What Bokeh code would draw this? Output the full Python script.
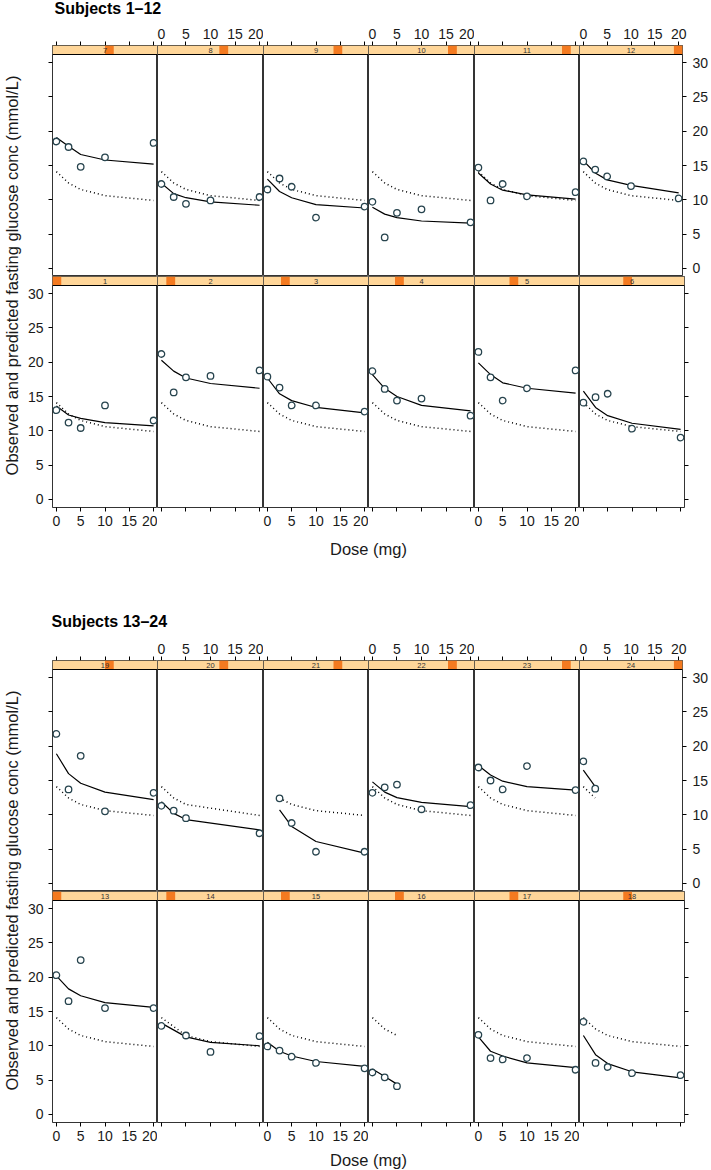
import math
from bokeh.plotting import figure
from bokeh.models import Range1d, LinearAxis, FixedTicker, BoxAnnotation, Span, Label
from bokeh.layouts import row, column
from bokeh.embed import file_html
from bokeh.resources import INLINE
from bokeh.core.properties import value

# ---------------- data ----------------
doses = [0, 2.5, 5, 10, 20]
pop_pred = [14.1, 12.45, 11.5, 10.6, 9.9]          # dotted: population prediction

obs_01 = [13.0, 11.2, 10.4, 13.7, 11.5]
ipred_01 = [13.6, 12.3, 11.8, 11.2, 10.7]
obs_02 = [21.2, 15.6, 17.8, 18.0, 18.8]
ipred_02 = [20.3, 18.7, 17.7, 16.9, 16.2]
obs_03 = [17.9, 16.3, 13.7, 13.7, 12.8]
ipred_03 = [17.7, 15.4, 14.4, 13.4, 12.6]
obs_04 = [18.7, 16.1, 14.4, 14.7, 12.2]
ipred_04 = [18.2, 16.2, 15.0, 13.7, 12.9]
obs_05 = [21.5, 17.8, 14.4, 16.2, 18.8]
ipred_05 = [19.9, 18.2, 17.0, 16.2, 15.5]
obs_06 = [14.1, 14.9, 15.4, 10.3, 9.0]
ipred_06 = [15.8, 13.4, 12.2, 11.1, 10.2]
obs_07 = [18.5, 17.7, 14.8, 16.2, 18.3]
ipred_07 = [19.1, 17.8, 16.6, 15.8, 15.2]
obs_08 = [12.3, 10.4, 9.4, 9.9, 10.4]
ipred_08 = [12.4, 10.9, 10.3, 9.7, 9.2]
obs_09 = [11.5, 13.1, 11.9, 7.4, 9.0]
ipred_09 = [13.0, 11.2, 10.3, 9.3, 8.8]
obs_10 = [9.7, 4.5, 8.1, 8.6, 6.7]
ipred_10 = [8.9, 7.9, 7.4, 6.9, 6.6]
obs_11 = [14.7, 9.9, 12.3, 10.5, 11.1]
ipred_11 = [13.9, 12.3, 11.4, 10.7, 10.1]
obs_12 = [15.6, 14.4, 13.4, 12.0, 10.2]
ipred_12 = [15.7, 13.9, 12.9, 12.1, 11.0]
obs_13 = [20.3, 16.5, 22.5, 15.5, 15.5]
ipred_13 = [20.2, 18.3, 17.3, 16.3, 15.6]
obs_14 = [12.9, None, 11.5, 9.1, 11.4]
ipred_14 = [13.3, None, 11.3, 10.5, 10.0]
obs_15 = [9.9, 9.3, 8.4, 7.5, 6.7]
ipred_15 = [10.5, 9.2, 8.5, 7.7, 7.0]
obs_16 = [6.1, 5.4, 4.1, None, None]
ipred_16 = [6.6, 5.5, 4.4, None, None]
obs_17 = [11.6, 8.2, 8.0, 8.2, 6.5]
ipred_17 = [11.3, 9.2, 8.5, 7.5, 6.8]
obs_18 = [13.5, 7.5, 6.9, 6.0, 5.7]
ipred_18 = [11.5, 8.7, 7.4, 6.2, 5.3]
obs_19 = [21.8, 13.7, 18.6, 10.5, 13.2]
ipred_19 = [18.9, 16.0, 14.6, 13.3, 12.2]
obs_20 = [11.3, 10.6, 9.5, None, 7.3]
ipred_20 = [11.9, 10.2, 9.3, None, 7.8]
obs_21 = [None, 12.4, 8.8, 4.6, 4.6]
ipred_21 = [None, 10.7, 8.3, 6.1, 4.4]
obs_22 = [13.2, 14.0, 14.4, 10.8, 11.4]
ipred_22 = [14.8, 13.3, 12.5, 11.8, 11.2]
obs_23 = [16.9, 15.0, 13.7, 17.1, 13.6]
ipred_23 = [17.2, 15.8, 14.9, 14.1, 13.6]
obs_24 = [17.8, 13.8, None, None, None]
ipred_24 = [16.5, 14.1, None, None, None]

obs_all = [obs_01, obs_02, obs_03, obs_04, obs_05, obs_06, obs_07, obs_08,
           obs_09, obs_10, obs_11, obs_12, obs_13, obs_14, obs_15, obs_16,
           obs_17, obs_18, obs_19, obs_20, obs_21, obs_22, obs_23, obs_24]
ipred_all = [ipred_01, ipred_02, ipred_03, ipred_04, ipred_05, ipred_06,
             ipred_07, ipred_08, ipred_09, ipred_10, ipred_11, ipred_12,
             ipred_13, ipred_14, ipred_15, ipred_16, ipred_17, ipred_18,
             ipred_19, ipred_20, ipred_21, ipred_22, ipred_23, ipred_24]

x_ticks = [0, 5, 10, 15, 20]
y_ticks = [0, 5, 10, 15, 20, 25, 30]
group_titles = ["Subjects 1\u201312", "Subjects 13\u201324"]
y_label = "Observed and predicted fasting glucose conc (mmol/L)"
x_label = "Dose (mg)"

# ---------------- styling / geometry ----------------
FONT = "Liberation Sans"
TXT = "#1a1a1a"
STRIP_BG = "#FFD699"
STRIP_DARK = "#F47A20"
PT_EDGE = "#27444E"
PT_FILL = "#FFFFFF"

PANEL_WS = [105, 106, 105, 106, 105, 105]
PANEL_H, STRIP_H = 222, 9
LEFT_B, RIGHT_B, TOP_B, BOT_B = 29, 27, 22, 26
YL_W = 23
TOTAL_W = YL_W + LEFT_B + sum(PANEL_WS) + RIGHT_B   # 711
X0, X1 = -0.8, 20.8
Y0, Y1 = -1.2, 31.2
Y_TOP = Y1 + STRIP_H * (Y1 - Y0) / PANEL_H


def mk_axis(ticks, show, standoff=2):
    return LinearAxis(
        ticker=FixedTicker(ticks=ticks), axis_line_color=None,
        major_tick_out=4, major_tick_in=0, minor_tick_out=0, minor_tick_in=0,
        major_tick_line_color="black", major_tick_line_width=1,
        major_label_text_font=FONT, major_label_text_font_size="14px",
        major_label_text_color=TXT if show else None,
        major_label_standoff=standoff)


def panel(subj, col, is_top):
    w = PANEL_WS[col] + (LEFT_B if col == 0 else 0) + (RIGHT_B if col == 5 else 0)
    h = PANEL_H + STRIP_H + (TOP_B if is_top else BOT_B)
    p = figure(width=w, height=h, x_range=Range1d(X0, X1), y_range=Range1d(Y0, Y_TOP),
               output_backend="svg", toolbar_location=None,
               x_axis_location=None, y_axis_location=None,
               min_border_left=LEFT_B if col == 0 else 0,
               min_border_right=RIGHT_B if col == 5 else 0,
               min_border_top=TOP_B if is_top else 0,
               min_border_bottom=0 if is_top else BOT_B,
               outline_line_color="black", outline_line_width=0.8,
               background_fill_color="white", border_fill_color="white")
    p.grid.visible = False

    # strip
    p.add_layout(BoxAnnotation(bottom=Y1, fill_color=STRIP_BG, fill_alpha=1, line_color=None))
    lvl = (subj - 1) % 12
    step = (X1 - X0) / 12
    p.add_layout(BoxAnnotation(left=X0 + lvl * step, right=X0 + (lvl + 1) * step, bottom=Y1,
                               fill_color=STRIP_DARK, fill_alpha=1, line_color=None))
    p.add_layout(Span(location=Y1, dimension="width", line_color="black", line_width=1))
    p.add_layout(Label(x=(X0 + X1) / 2, y=(Y1 + Y_TOP) / 2, text=str(subj),
                       text_align="center", text_baseline="middle",
                       text_font=FONT, text_font_size="7.5px", text_color="#333333"))

    ob = obs_all[subj - 1]
    ip = ipred_all[subj - 1]
    xi = [d for d, v in zip(doses, ip) if v is not None]
    yi = [v for v in ip if v is not None]
    yp = [pp for pp, v in zip(pop_pred, ip) if v is not None]
    xo = [d for d, v in zip(doses, ob) if v is not None]
    yo = [v for v in ob if v is not None]

    p.line(xi, yp, line_color="black", line_width=1.5, line_dash="1 3")
    p.line(xi, yi, line_color="black", line_width=1.2)
    p.scatter(xo, yo, marker="circle", size=6.5, line_color=PT_EDGE,
              fill_color=PT_FILL, line_width=1.3)

    if is_top:
        p.add_layout(mk_axis(x_ticks, col % 2 == 1, 3), "above")
    else:
        p.add_layout(mk_axis(x_ticks, col % 2 == 0, 4), "below")
    if col == 0:
        p.add_layout(mk_axis(y_ticks, not is_top, 5), "left")
    if col == 5:
        p.add_layout(mk_axis(y_ticks, is_top, 6), "right")
    return p


def text_fig(height, width=TOTAL_W):
    f = figure(width=width, height=height, x_range=Range1d(0, width), y_range=Range1d(0, height),
               output_backend="svg", toolbar_location=None,
               x_axis_location=None, y_axis_location=None, min_border=0,
               outline_line_color=None)
    f.grid.visible = False
    return f


PANEL_CX = YL_W + LEFT_B + sum(PANEL_WS) / 2   # centre of panels (x px)


def group(top_subjects, bottom_subjects):
    r_top = row([panel(s, c, True) for c, s in enumerate(top_subjects)])
    r_bot = row([panel(s, c, False) for c, s in enumerate(bottom_subjects)])
    hh = (TOP_B + PANEL_H + STRIP_H) + (BOT_B + PANEL_H + STRIP_H)
    yl = text_fig(hh, YL_W)
    yl.text(x=[11], y=[hh - (TOP_B + PANEL_H + STRIP_H) + 1], text=[y_label], angle=math.pi / 2,
            text_align="center", text_baseline="middle",
            text_font=value(FONT), text_font_size=value("16.5px"), text_color=TXT)
    return row(yl, column(r_top, r_bot))


# header of group 1
t1 = text_fig(23)
t1.text(x=[54], y=[15], text=[group_titles[0]], text_align="left", text_baseline="middle",
        text_font=value(FONT), text_font_size=value("16px"), text_font_style="bold", text_color="black")

g1 = group([7, 8, 9, 10, 11, 12], [1, 2, 3, 4, 5, 6])

mid = text_fig(105)
mid.text(x=[PANEL_CX], y=[90], text=[x_label], text_align="center", text_baseline="middle",
         text_font=value(FONT), text_font_size=value("16.5px"), text_color=TXT)
mid.text(x=[51], y=[17], text=[group_titles[1]], text_align="left", text_baseline="middle",
         text_font=value(FONT), text_font_size=value("16px"), text_font_style="bold", text_color="black")

g2 = group([19, 20, 21, 22, 23, 24], [13, 14, 15, 16, 17, 18])

xl2 = text_fig(21)
xl2.text(x=[PANEL_CX], y=[10], text=[x_label], text_align="center", text_baseline="middle",
         text_font=value(FONT), text_font_size=value("16.5px"), text_color=TXT)

layout = column(t1, g1, mid, g2, xl2)

open("out.html", "w").write(file_html(layout, INLINE))
